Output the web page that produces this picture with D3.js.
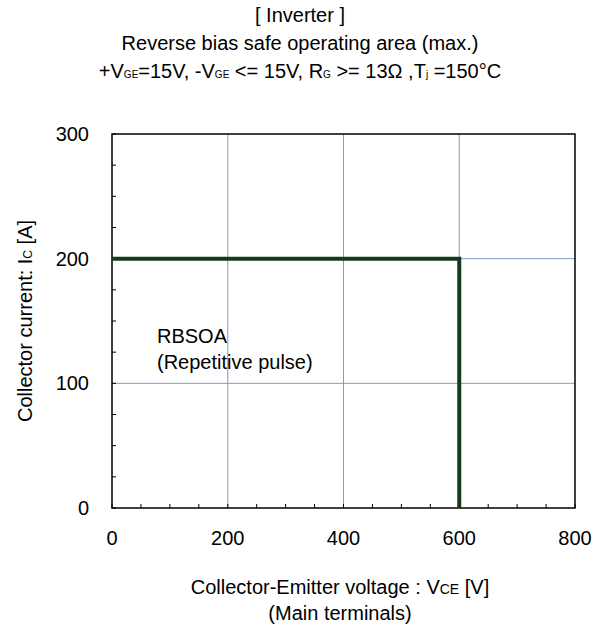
<!DOCTYPE html>
<html><head><meta charset="utf-8">
<script src="https://cdn.jsdelivr.net/npm/d3@7"></script>
<style>body{margin:0;background:#fff}text{font-family:"Liberation Sans",Arial,sans-serif;fill:#000}</style>
</head><body>
<script>
const xTicks = [0, 200, 400, 600, 800];
const yTicks = [0, 100, 200, 300];
const xMinor = d3.range(0, 801, 50);
const yMinor = d3.range(0, 301, 25);
const rbsoaV = [0, 600, 600];
const rbsoaI = [200, 200, 0];

const W = 600, H = 624;
const m = {l: 112, r: 575, t: 134, b: 508};
const FS = 20;
const svg = d3.select("body").append("svg").attr("width", W).attr("height", H);
const x = d3.scaleLinear().domain([0, 800]).range([m.l, m.r]);
const y = d3.scaleLinear().domain([0, 300]).range([m.b, m.t]);

// grid
const gridColor = "#7f9bd0";
svg.append("g").selectAll("line").data(xTicks.filter(d => d > 0 && d < 800)).join("line")
  .attr("x1", d => x(d)).attr("x2", d => x(d)).attr("y1", m.t).attr("y2", m.b)
  .attr("stroke", gridColor).attr("stroke-width", 1);
svg.append("g").selectAll("line").data(yTicks.filter(d => d > 0 && d < 300)).join("line")
  .attr("y1", d => y(d)).attr("y2", d => y(d)).attr("x1", m.l).attr("x2", m.r)
  .attr("stroke", gridColor).attr("stroke-width", 1);

// minor ticks (inside)
svg.append("g").selectAll("line").data(xMinor).join("line")
  .attr("x1", d => x(d)).attr("x2", d => x(d)).attr("y1", m.b).attr("y2", m.b - 4)
  .attr("stroke", "#000").attr("stroke-width", 1);
svg.append("g").selectAll("line").data(yMinor).join("line")
  .attr("y1", d => y(d)).attr("y2", d => y(d)).attr("x1", m.l).attr("x2", m.l + 4)
  .attr("stroke", "#000").attr("stroke-width", 1);

// frame
svg.append("rect").attr("x", m.l).attr("y", m.t).attr("width", m.r - m.l).attr("height", m.b - m.t)
  .attr("fill", "none").attr("stroke", "#000").attr("stroke-width", 1.5);

// curve
const pts = rbsoaV.map((v, i) => [v, rbsoaI[i]]);
svg.append("path").datum(pts)
  .attr("d", d3.line().x(d => x(d[0])).y(d => y(d[1])))
  .attr("fill", "none").attr("stroke", "#173a1e").attr("stroke-width", 4)
  .attr("stroke-linejoin", "miter");

// tick labels
svg.append("g").selectAll("text").data(xTicks).join("text")
  .attr("x", d => x(d)).attr("y", 545).attr("text-anchor", "middle")
  .attr("font-size", FS).text(d => d);
svg.append("g").selectAll("text").data(yTicks).join("text")
  .attr("x", 89).attr("y", d => y(d) + 7).attr("text-anchor", "end")
  .attr("font-size", FS).text(d => d);

// title
const t = svg.append("g").attr("font-size", FS);
t.append("text").attr("x", 300).attr("y", 22).attr("text-anchor", "middle").text("[ Inverter ]");
t.append("text").attr("x", 300).attr("y", 50).attr("text-anchor", "middle").text("Reverse bias safe operating area (max.)");
const t3 = t.append("text").attr("x", 300).attr("y", 78).attr("text-anchor", "middle");
const parts = [["+V",FS],["GE",10],["=15V, -V",FS],["GE",10],[" <= 15V, R",FS],["G",10],[" >= 13Ω ,T",FS],["j",10],[" =150°C",FS]];
parts.forEach(p => t3.append("tspan").attr("font-size", p[1]).text(p[0]));

// axis titles
const xl = svg.append("g").attr("font-size", FS);
const xt = xl.append("text").attr("x", 340).attr("y", 594).attr("text-anchor", "middle");
[["Collector-Emitter voltage : V",FS],["CE",14],[" [V]",FS]].forEach(p => xt.append("tspan").attr("font-size", p[1]).text(p[0]));
xl.append("text").attr("x", 340).attr("y", 620).attr("text-anchor", "middle").text("(Main terminals)");

const yt = svg.append("text").attr("transform", "translate(32,321) rotate(-90)").attr("text-anchor", "middle").attr("font-size", FS);
[["Collector current: I",FS],["C",12],[" [A]",FS]].forEach(p => yt.append("tspan").attr("font-size", p[1]).text(p[0]));

// annotation
svg.append("text").attr("x", 157).attr("y", 343).attr("font-size", FS).text("RBSOA");
svg.append("text").attr("x", 157).attr("y", 369).attr("font-size", FS).text("(Repetitive pulse)");
</script>
</body></html>
